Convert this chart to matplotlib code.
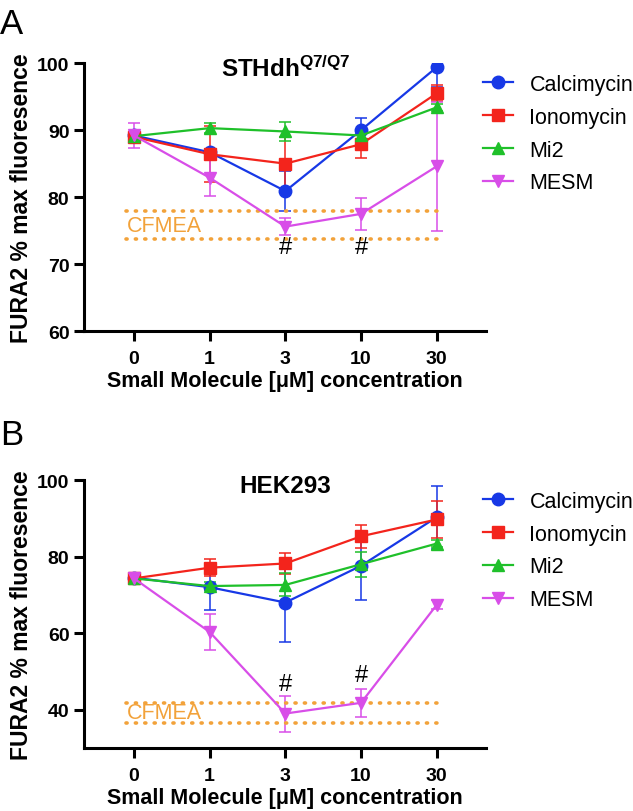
import matplotlib
matplotlib.use("Agg")
import matplotlib.pyplot as plt
from matplotlib.lines import Line2D

plt.rcParams['font.family'] = ['Liberation Sans', 'DejaVu Sans']
plt.rcParams['mathtext.fontset'] = 'custom'
plt.rcParams['mathtext.bf'] = 'Liberation Sans:bold'
plt.rcParams['mathtext.rm'] = 'Liberation Sans'

conc_labels = ['0', '1', '3', '10', '30']
series_names = ['Calcimycin', 'Ionomycin', 'Mi2', 'MESM']

# panel A: STHdh Q7/Q7
cal_a = [89.2, 86.7, 80.9, 90.0, 99.4]
cal_a_err = [0.5, 0.5, 3.0, 1.8, 3.0]
ion_a = [89.0, 86.4, 85.0, 87.9, 95.5]
ion_a_err = [0.6, 4.2, 4.0, 2.0, 1.2]
mi2_a = [89.1, 90.3, 89.8, 89.2, 93.4]
mi2_a_err = [0.5, 0.7, 1.4, 0.7, 0.5]
mesm_a = [89.2, 82.9, 75.6, 77.5, 84.6]
mesm_a_err = [1.8, 2.8, 1.3, 2.4, 9.6]
cfmea_a = [73.7, 77.9]
hash_a = [(2, 72.5), (3, 72.5)]

# panel B: HEK293
cal_b = [74.5, 72.0, 68.0, 77.6, 90.3]
cal_b_err = [1.0, 6.0, 10.3, 9.0, 8.2]
ion_b = [74.3, 77.1, 78.2, 85.3, 89.7]
ion_b_err = [1.0, 2.3, 2.7, 3.0, 4.8]
mi2_b = [74.3, 72.3, 72.6, 78.0, 83.4]
mi2_b_err = [1.0, 1.0, 3.0, 3.3, 1.0]
mesm_b = [74.3, 60.3, 39.0, 41.8, 67.4]
mesm_b_err = [1.5, 4.7, 4.7, 3.7, 1.2]
cfmea_b = [36.6, 41.8]
hash_b = [(2, 46.8), (3, 49.0)]

colors = ['#1738e6', '#f3241c', '#1fc02a', '#d84ee8']
markers = ['o', 's', '^', 'v']
orange = '#f2a23a'


def draw_panel(ax, data, cfmea, hashes, title, ylim, yticks, cf_y):
    x = list(range(len(conc_labels)))
    for (vals, errs), c, m in zip(data, colors, markers):
        ax.errorbar(x, vals, yerr=errs, color=c, marker=m, markersize=9,
                    lw=1.6, elinewidth=1.1, capsize=4.5, capthick=1.1,
                    markeredgecolor=c)
    for yv in cfmea:
        ax.plot([-0.1, 4.1], [yv, yv], color=orange, lw=2.6,
                ls=(0, (0.3, 2.3)), dash_capstyle='round')
    ax.text(-0.1, cf_y, 'CFMEA', color=orange, fontsize=15.5, va='center', ha='left')
    for hx, hy in hashes:
        ax.text(hx, hy, '#', fontsize=17, ha='center', va='center')
    ax.text(2, ylim[1] - 0.8 * (ylim[1] - ylim[0]) / 40, title, fontsize=17.5,
            fontweight='bold', ha='center', va='center')
    ax.set_xlim(-0.66, 4.65)
    ax.set_ylim(*ylim)
    ax.set_xticks(x)
    ax.set_xticklabels(conc_labels)
    ax.set_yticks(yticks)
    for s in ['top', 'right']:
        ax.spines[s].set_visible(False)
    for s in ['left', 'bottom']:
        ax.spines[s].set_linewidth(2.2)
    ax.tick_params(width=2.2, length=7.5, labelsize=14, pad=3)
    ax.tick_params(axis='x', pad=6)
    for lab in ax.get_xticklabels() + ax.get_yticklabels():
        lab.set_fontweight('bold')
    ax.set_xlabel('Small Molecule [\u03bcM] concentration', fontsize=15.5,
                  fontweight='bold', labelpad=2)
    ax.set_ylabel('FURA2 % max fluoresence', fontsize=16.5, fontweight='bold',
                  labelpad=3)
    handles = [Line2D([], [], color=c, marker=m, markersize=9, lw=1.6)
               for c, m in zip(colors, markers)]
    ax.legend(handles, series_names, loc='upper left', bbox_to_anchor=(0.993, 0.96),
              frameon=False, fontsize=15.5, handlelength=1.4, handletextpad=0.75,
              labelspacing=0.55, borderpad=0, borderaxespad=0)


fig = plt.figure(figsize=(6.33, 8.12), dpi=100)
ax_a = fig.add_axes([0.1327, 0.591, 0.635, 0.330])
ax_b = fig.add_axes([0.1327, 0.0776, 0.635, 0.330])

draw_panel(ax_a, [(cal_a, cal_a_err), (ion_a, ion_a_err), (mi2_a, mi2_a_err),
                  (mesm_a, mesm_a_err)],
           cfmea_a, hash_a, r'$\mathbf{STHdh^{Q7/Q7}}$', (60, 100),
           [60, 70, 80, 90, 100], 75.8)
draw_panel(ax_b, [(cal_b, cal_b_err), (ion_b, ion_b_err), (mi2_b, mi2_b_err),
                  (mesm_b, mesm_b_err)],
           cfmea_b, hash_b, 'HEK293', (30, 100), [40, 60, 80, 100], 39.3)

fig.text(0.0, 0.99, 'A', fontsize=25, va='top', ha='left')
fig.text(0.0, 0.484, 'B', fontsize=25, va='top', ha='left')

fig.savefig('out.png', dpi=100)
